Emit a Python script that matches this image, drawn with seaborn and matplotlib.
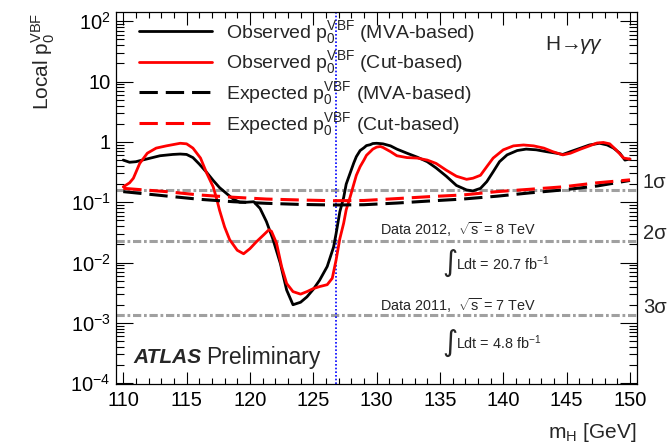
import numpy as np
import pandas as pd
import matplotlib
matplotlib.use("Agg")
import matplotlib.pyplot as plt
import seaborn as sns
from matplotlib.ticker import FixedLocator, FixedFormatter, MultipleLocator, LogLocator, NullFormatter, FormatStrFormatter

# ---------------------------------------------------------------------------
# Local p0 scans versus Higgs mass hypothesis (VBF category, H -> gamma gamma)
# ---------------------------------------------------------------------------
mass_obs_mva = [110.0, 110.5, 111.0, 111.5, 112.0, 112.9, 113.9, 114.5, 115.0, 115.5,
                116.0, 116.6, 117.1, 117.6, 118.2, 118.7, 119.2, 119.7, 120.3, 120.8,
                121.3, 121.8, 122.4, 122.9, 123.4, 124.0, 124.5, 125.0, 125.5, 126.1,
                126.6, 126.8, 127.1, 127.4, 127.6, 127.9, 128.2, 128.4, 128.7, 129.0,
                129.2, 129.5, 129.7, 130.0, 130.5, 131.1, 131.6, 132.4, 133.2, 134.0,
                134.7, 135.5, 136.3, 137.1, 137.6, 138.2, 138.7, 139.2, 139.7, 140.3,
                141.1, 141.8, 142.6, 143.4, 144.2, 144.7, 145.3, 146.1, 146.8, 147.6,
                148.2, 148.7, 149.2, 149.6, 150.0]
p0_obs_mva = [0.50, 0.46, 0.47, 0.50, 0.53, 0.59, 0.62, 0.63, 0.62, 0.55,
              0.43, 0.31, 0.23, 0.175, 0.137, 0.112, 0.100, 0.100, 0.102, 0.079,
              0.048, 0.025, 0.0097, 0.0035, 0.0020, 0.0022, 0.0027, 0.0036, 0.0051, 0.0086,
              0.018, 0.030, 0.070, 0.12, 0.20, 0.30, 0.45, 0.57, 0.72, 0.80,
              0.87, 0.90, 0.94, 0.95, 0.93, 0.86, 0.76, 0.65, 0.56, 0.47,
              0.37, 0.27, 0.19, 0.16, 0.154, 0.17, 0.22, 0.32, 0.47, 0.61,
              0.72, 0.76, 0.74, 0.69, 0.65, 0.62, 0.69, 0.79, 0.89, 0.95,
              0.89, 0.79, 0.65, 0.50, 0.52]

mass_obs_cut = [110.0, 110.5, 110.8, 111.3, 111.9, 112.6, 113.4, 114.5, 115.0, 115.5,
                116.1, 116.6, 117.1, 117.4, 117.6, 118.0, 118.4, 119.0, 119.5, 120.0,
                120.5, 121.1, 121.5, 121.7, 122.1, 122.5, 122.9, 123.4, 124.0, 124.5,
                125.0, 125.5, 126.1, 126.5, 126.8, 127.1, 127.4, 127.6, 127.9, 128.2,
                128.4, 128.7, 129.0, 129.2, 129.5, 129.7, 130.0, 130.3, 130.5, 131.1,
                131.6, 132.4, 133.2, 134.0, 134.7, 135.5, 136.3, 137.1, 137.6, 138.2,
                138.7, 139.2, 140.0, 140.8, 141.6, 142.4, 143.2, 143.9, 144.7, 145.3,
                146.1, 146.8, 147.4, 147.9, 148.4, 148.9, 149.5, 150.0]
p0_obs_cut = [0.18, 0.21, 0.25, 0.44, 0.65, 0.79, 0.86, 0.95, 0.93, 0.79,
              0.54, 0.30, 0.18, 0.109, 0.074, 0.039, 0.024, 0.016, 0.014, 0.017,
              0.022, 0.029, 0.035, 0.033, 0.021, 0.0086, 0.0045, 0.0033, 0.0030, 0.0033,
              0.0037, 0.0040, 0.0043, 0.0055, 0.011, 0.025, 0.045, 0.075, 0.12, 0.20,
              0.28, 0.39, 0.50, 0.60, 0.69, 0.76, 0.82, 0.84, 0.81, 0.69,
              0.59, 0.55, 0.54, 0.50, 0.44, 0.34, 0.27, 0.24, 0.25, 0.28,
              0.39, 0.54, 0.74, 0.86, 0.89, 0.86, 0.79, 0.69, 0.61, 0.65,
              0.76, 0.86, 0.96, 0.98, 0.93, 0.74, 0.54, 0.52]

mass_exp = [110.0, 113.4, 116.0, 118.7, 121.3, 124.0, 126.6, 129.0,
            131.6, 134.2, 136.8, 139.5, 142.1, 144.7, 147.4, 150.0]
p0_exp_mva = [0.150, 0.127, 0.112, 0.102, 0.096, 0.092, 0.090, 0.091,
              0.097, 0.105, 0.113, 0.126, 0.143, 0.160, 0.186, 0.230]
p0_exp_cut = [0.170, 0.150, 0.132, 0.121, 0.113, 0.109, 0.106, 0.107,
              0.115, 0.124, 0.132, 0.150, 0.164, 0.180, 0.210, 0.235]

sigma_labels = ["1σ", "2σ", "3σ"]
sigma_p0 = [0.1587, 0.02275, 0.00135]
mass_best = 126.8

y_ticks = [1e-4, 1e-3, 1e-2, 1e-1, 1, 10, 100]
y_tick_labels = [r"$10^{-4}$", r"$10^{-3}$", r"$10^{-2}$", r"$10^{-1}$", "1", "10", r"$10^{2}$"]
x_ticks = [110, 115, 120, 125, 130, 135, 140, 145, 150]

legend_labels = [r"Observed $\mathrm{p}_{0}^{\mathrm{VBF}}$ (MVA-based)",
                 r"Observed $\mathrm{p}_{0}^{\mathrm{VBF}}$ (Cut-based)",
                 r"Expected $\mathrm{p}_{0}^{\mathrm{VBF}}$ (MVA-based)",
                 r"Expected $\mathrm{p}_{0}^{\mathrm{VBF}}$ (Cut-based)"]

# ---------------------------------------------------------------------------
sns.set_theme(style="ticks")
plt.rcParams["font.family"] = ["Liberation Sans", "DejaVu Sans"]
plt.rcParams["mathtext.fontset"] = "custom"
plt.rcParams["mathtext.rm"] = "Liberation Sans"
plt.rcParams["mathtext.it"] = "Liberation Sans:italic"
plt.rcParams["mathtext.bf"] = "Liberation Sans:bold"
plt.rcParams["mathtext.sf"] = "Liberation Sans"
plt.rcParams["axes.linewidth"] = 0.9

obs_mva = pd.DataFrame({"mH": mass_obs_mva, "p0": p0_obs_mva})
obs_cut = pd.DataFrame({"mH": mass_obs_cut, "p0": p0_obs_cut})
exp_df = pd.DataFrame({"mH": mass_exp, "mva": p0_exp_mva, "cut": p0_exp_cut})

fig = plt.figure(figsize=(6.69, 4.48), dpi=100)
ax = fig.add_axes([0.1738, 0.1422, 0.7779, 0.8304])

dash_exp = (0, (6.0, 2.6))
sns.lineplot(data=obs_mva, x="mH", y="p0", ax=ax, color="black", lw=2.0,
             estimator=None, sort=False, label=legend_labels[0])
sns.lineplot(data=obs_cut, x="mH", y="p0", ax=ax, color="#ff0000", lw=2.0,
             estimator=None, sort=False, label=legend_labels[1])
sns.lineplot(data=exp_df, x="mH", y="mva", ax=ax, color="black", lw=2.2,
             linestyle=dash_exp, estimator=None, sort=False, label=legend_labels[2])
sns.lineplot(data=exp_df, x="mH", y="cut", ax=ax, color="#ff0000", lw=2.2,
             linestyle=dash_exp, estimator=None, sort=False, label=legend_labels[3])

# significance reference lines
for lab, p in zip(sigma_labels, sigma_p0):
    ax.axhline(p, color="#a0a0a0", lw=2.2, ls=(0, (2.7, 0.9, 0.9, 0.9)), zorder=1.5)
    ax.annotate(lab, xy=(1.0, p), xycoords=("axes fraction", "data"),
                xytext=(4.5, 5.5), textcoords="offset points",
                ha="left", va="center", fontsize=14.5, annotation_clip=False)

# best-fit mass
ax.axvline(mass_best, color="#0000ff", lw=1.2, ls=(0, (1, 1.2)), zorder=1.6)

ax.set_yscale("log")
ax.set_xlim(109.45, 150.53)
ax.set_ylim(9.6e-5, 141)

ax.yaxis.set_major_locator(FixedLocator(y_ticks))
ax.yaxis.set_major_formatter(FixedFormatter(y_tick_labels))
ax.yaxis.set_minor_locator(LogLocator(base=10, subs=np.arange(2, 10), numticks=30))
ax.yaxis.set_minor_formatter(NullFormatter())
ax.xaxis.set_major_locator(FixedLocator(x_ticks))
ax.xaxis.set_major_formatter(FormatStrFormatter("%d"))
ax.xaxis.set_minor_locator(MultipleLocator(1))

ax.tick_params(which="both", direction="in", top=True, right=True, width=0.8,
               labelsize=14.5, colors="black")
ax.tick_params(axis="y", which="major", length=12, pad=4)
ax.tick_params(axis="y", which="minor", length=6)
ax.tick_params(axis="x", which="major", length=9, pad=5)
ax.tick_params(axis="x", which="minor", length=4.5)
for s in ax.spines.values():
    s.set_color("black")

ax.set_xlabel(r"m$_{\mathrm{H}}$ [GeV]", fontsize=15, loc="right")
ax.xaxis.set_label_coords(1.0, -0.10)
ax.set_ylabel(r"Local $\mathrm{p}_{0}^{\mathrm{VBF}}$", fontsize=15, loc="top")
ax.yaxis.set_label_coords(-0.114, 1.0)

leg = ax.legend(loc="upper left", bbox_to_anchor=(0.0436, 0.982), frameon=False,
                fontsize=14, handlelength=3.75, handletextpad=0.75,
                labelspacing=0.19, borderaxespad=0, borderpad=0)

# labels inside the frame
ax.text(0.032, 0.0707, "ATLAS", transform=ax.transAxes, fontsize=15,
        fontweight="bold", fontstyle="italic", va="center", ha="left")
ax.text(0.172, 0.0707, "Preliminary", transform=ax.transAxes, fontsize=16.5,
        va="center", ha="left")
ax.text(0.8238, 0.912, r"H$\!\rightarrow\!\!\gamma\gamma$", transform=ax.transAxes,
        fontsize=15, va="center", ha="left")

ax.text(0.5067, 0.4148, r"Data 2012,  $\sqrt{\mathrm{s}}$ = 8 TeV", transform=ax.transAxes,
        fontsize=10.4, va="center", ha="left")
ax.text(0.6413, 0.326, "∫", transform=ax.transAxes, fontsize=21,
        family="DejaVu Sans", va="center", ha="center")
ax.text(0.6528, 0.3234, r"Ldt = 20.7 fb$^{-1}$", transform=ax.transAxes,
        fontsize=10.4, va="center", ha="left")
ax.text(0.5067, 0.2108, r"Data 2011,  $\sqrt{\mathrm{s}}$ = 7 TeV", transform=ax.transAxes,
        fontsize=10.4, va="center", ha="left")
ax.text(0.6413, 0.111, "∫", transform=ax.transAxes, fontsize=21,
        family="DejaVu Sans", va="center", ha="center")
ax.text(0.6528, 0.111, r"Ldt = 4.8 fb$^{-1}$", transform=ax.transAxes,
        fontsize=10.4, va="center", ha="left")

fig.savefig("out.png", dpi=100, facecolor="white")
